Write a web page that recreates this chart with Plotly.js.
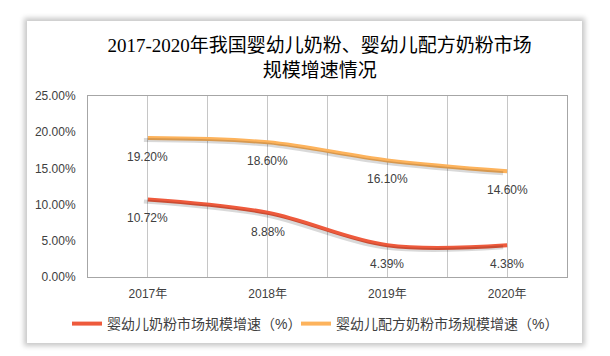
<!DOCTYPE html>
<html>
<head>
<meta charset="utf-8">
<script src="https://cdn.plot.ly/plotly-3.0.1.min.js"></script>
<style>
  html, body { margin: 0; padding: 0; background: #ffffff; }
  #card { position: absolute; left: 27px; top: 21px; width: 555px; height: 322px;
          background: #ffffff; box-shadow: 0 0 5px 3px rgba(0,0,0,0.22); }
  #chart { position: absolute; left: 0; top: 0; width: 610px; height: 356px; }
</style>
</head>
<body>
<div id="card"></div>
<div id="chart"></div>
<script>
// ---- data ----
const categories = ['2017年', '2018年', '2019年', '2020年'];
const infantMilkGrowth = [10.72, 8.88, 4.39, 4.38];      // 婴幼儿奶粉市场规模增速（%）
const formulaMilkGrowth = [19.20, 18.60, 16.10, 14.60];  // 婴幼儿配方奶粉市场规模增速（%）
const seriesNames = ['婴幼儿奶粉市场规模增速（%）', '婴幼儿配方奶粉市场规模增速（%）'];
const yTickVals = [0, 5, 10, 15, 20, 25];

const xIdx = categories.map((c, i) => i);
const redColor = '#EE5A3C';
const orangeColor = '#FDB35C';
const textFont = { family: 'Liberation Sans, Arial, sans-serif', size: 12, color: '#404040' };
const cjkFont = 'Liberation Sans, Noto Sans CJK SC, sans-serif';

function shadow(vals) {
  return { x: xIdx, y: vals, xaxis: 'x2', yaxis: 'y2', mode: 'lines', showlegend: false,
           hoverinfo: 'skip', line: { color: 'rgba(0,0,0,0.15)', width: 4, shape: 'spline', smoothing: 1 } };
}
function main(vals, name, color, legendId) {
  return { x: xIdx, y: vals, name: name, mode: 'lines', hoverinfo: 'skip', legend: legendId,
           line: { color: color, width: 4, shape: 'spline', smoothing: 1 } };
}

const traces = [
  shadow(infantMilkGrowth),
  shadow(formulaMilkGrowth),
  main(infantMilkGrowth, seriesNames[0], redColor, 'legend'),
  main(formulaMilkGrowth, seriesNames[1], orangeColor, 'legend2')
];

const annotations = [];
[infantMilkGrowth, formulaMilkGrowth].forEach(vals => {
  vals.forEach((v, i) => {
    annotations.push({ x: i, y: v, xref: 'x', yref: 'y', text: v.toFixed(2) + '%',
      showarrow: false, yshift: -19, font: textFont, xanchor: 'center', yanchor: 'middle' });
  });
});

const legendBase = {
  orientation: 'h', xref: 'container', yref: 'container',
  xanchor: 'left', y: 1 - 324 / 356, yanchor: 'middle',
  font: { family: cjkFont, size: 14, color: '#404040' },
  bgcolor: 'rgba(0,0,0,0)', itemwidth: 30
};

const W = 487, H = 184;
const layout = {
  width: 610, height: 356,
  margin: { l: 80, r: 43, t: 96, b: 76 },
  paper_bgcolor: 'rgba(0,0,0,0)',
  plot_bgcolor: 'rgba(0,0,0,0)',
  title: {
    text: '2017-2020年我国婴幼儿奶粉、婴幼儿配方奶粉市场<br>规模增速情况',
    font: { family: 'Liberation Serif, Noto Sans CJK SC, serif', size: 19, color: '#000000' },
    xref: 'container', x: 0.524, xanchor: 'center',
    yref: 'container', y: 1 - 52 / 356, yanchor: 'top'
  },
  xaxis: {
    domain: [8 / W, 1],
    range: [-0.5, 3.5],
    tickvals: xIdx, ticktext: categories,
    showgrid: true, gridcolor: '#C6C6C6', gridwidth: 1,
    minor: { tickvals: [0.5, 1.5, 2.5], showgrid: true, gridcolor: '#C6C6C6', gridwidth: 1 },
    showline: true, mirror: true, linecolor: '#A6A6A6', linewidth: 1,
    zeroline: false, ticks: '', ticklabelstandoff: 6,
    tickfont: { family: cjkFont, size: 12, color: '#404040' },
    fixedrange: true
  },
  yaxis: {
    domain: [3 / H, 1],
    range: [0, 25],
    tickvals: yTickVals, ticktext: yTickVals.map(v => v.toFixed(2) + '%'),
    showgrid: false, zeroline: false,
    showline: true, mirror: true, linecolor: '#A6A6A6', linewidth: 1,
    ticks: '', ticklabelstandoff: 9,
    tickfont: textFont, fixedrange: true
  },
  xaxis2: { domain: [4 / W, 1 - 4 / W], range: [-0.5, 3.5], visible: false, anchor: 'y2', fixedrange: true },
  yaxis2: { domain: [1 / H, 1 - 2 / H], range: [0, 25], visible: false, anchor: 'x2', fixedrange: true },
  showlegend: true,
  legend: Object.assign({}, legendBase, { x: 67 / 610 }),
  legend2: Object.assign({}, legendBase, { x: 296 / 610 }),
  annotations: annotations
};

Plotly.newPlot('chart', traces, layout, { displayModeBar: false, staticPlot: true });
</script>
</body>
</html>
